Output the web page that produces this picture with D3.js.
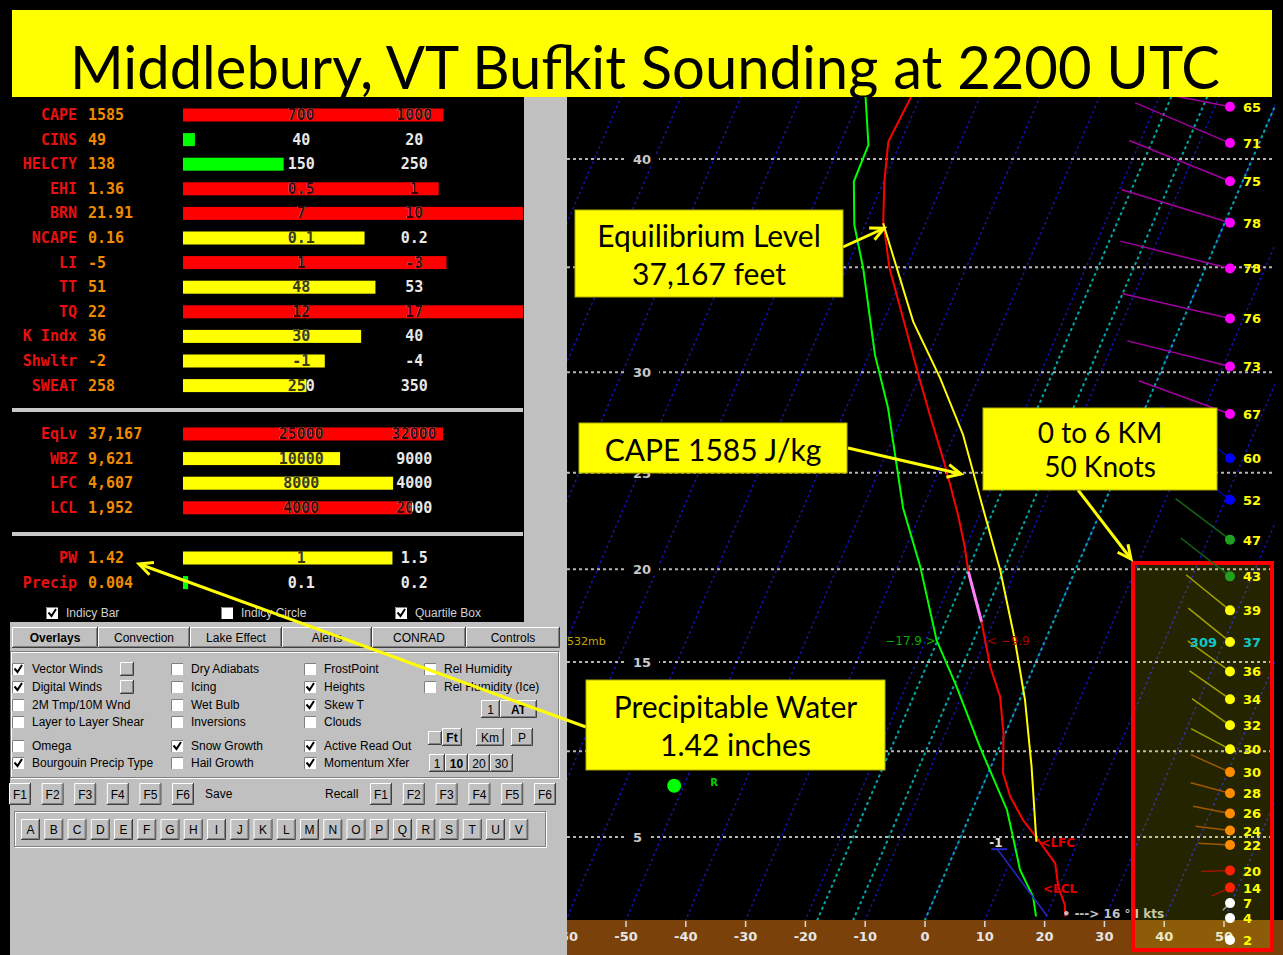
<!DOCTYPE html>
<html>
<head>
<meta charset="utf-8">
<title>Middlebury Bufkit sounding</title>
<script src="https://d3js.org/d3.v7.min.js"></script>
<style>
  body { margin: 0; background: #fff; overflow: hidden; }
  svg text { user-select: none; }
</style>
</head>
<body>
<script>
// ---------------- data ----------------
const titleText = "Middlebury, VT Bufkit Sounding at 2200 UTC";

// stability indices
const idxNames  = ["CAPE", "CINS", "HELCTY", "EHI", "BRN", "NCAPE", "LI", "TT", "TQ", "K Indx", "Shwltr", "SWEAT"];
const idxValues = ["1585", "49", "138", "1.36", "21.91", "0.16", "-5", "51", "22", "36", "-2", "258"];
const idxFill   = [0.766, 0.035, 0.296, 0.752, 1.0, 0.534, 0.775, 0.566, 1.0, 0.524, 0.417, 0.363];
const idxLow    = ["700", "40", "150", "0.5", "7", "0.1", "1", "48", "12", "30", "-1", "250"];
const idxHigh   = ["1000", "20", "250", "1", "10", "0.2", "-3", "53", "17", "40", "-4", "350"];
const idxLevel  = ["hi", "ok", "ok", "hi", "hi", "mod", "hi", "mod", "hi", "mod", "mod", "mod"];

// heights (feet)
const hgtNames  = ["EqLv", "WBZ", "LFC", "LCL"];
const hgtValues = ["37,167", "9,621", "4,607", "1,952"];
const hgtFill   = [0.765, 0.462, 0.618, 0.673];
const hgtLow    = ["25000", "10000", "8000", "4000"];
const hgtHigh   = ["32000", "9000", "4000", "2000"];
const hgtLevel  = ["hi", "mod", "mod", "hi"];

// moisture
const pwNames  = ["PW", "Precip"];
const pwValues = ["1.42", "0.004"];
const pwFill   = [0.616, 0.015];
const pwLow    = ["1", "0.1"];
const pwHigh   = ["1.5", "0.2"];
const pwLevel  = ["mod", "ok"];

// sounding (pressure mb, deg C)
const tempP = [160, 180.4, 197.1, 215.4, 238.9, 257.2, 302.6, 330.7, 369.4, 412.8, 442.9, 468.1, 523.0, 577.9, 617.6, 669.8, 731.9, 770.9, 811.8, 848.5, 893.6, 941.2, 980.1, 1005];
const tempC = [-61.4, -62.1, -59.9, -57.2, -52.8, -48.9, -40.3, -35.5, -29.4, -23.6, -20.2, -17.8, -12.0, -7.3, -3.5, -0.3, 2.5, 5.4, 9.2, 13.2, 17.7, 19.9, 22.3, 23.2];
const dewP  = [160, 181.7, 197.1, 217.0, 238.9, 289.5, 325.6, 406.4, 462.9, 544.7, 604.0, 690.0, 793.9, 861.3, 906.9, 962.2, 1005];
const dewC  = [-69.9, -65.2, -65.0, -61.8, -57.2, -49.0, -43.0, -33.3, -26.2, -18.2, -11.5, -3.3, 5.8, 9.8, 12.3, 16.4, 18.3];
const parcelP = [216.2, 268.9, 304.9, 345.7, 403.7, 466.3, 544.7, 622.1, 721.3, 851.8];
const parcelC = [-57.1, -45.0, -36.4, -28.5, -20.3, -12.6, -5.1, 0.9, 6.8, 13.0];
const momentP = [1005, 866];
const momentC = [20.2, 7.0];

// winds
const windP   = [167, 181, 197, 216, 239, 267, 297, 330, 364, 399, 436, 473, 510, 547, 584, 621, 658, 694, 730, 765, 800, 831, 858, 908, 943, 976, 1009, 1059];
const windSpd = [65, 71, 75, 78, 78, 76, 73, 67, 60, 52, 47, 43, 39, 37, 36, 34, 32, 30.4, 29.6, 28, 26, 24, 22, 20, 14, 7, 4, 2];
const windDir = [281, 293, 292, 287, 284, 283, 284, 290, 307, 307, 307, 308, 309, 309, 306, 305, 305, 298, 294, 285, 281, 277, 273, 268, 245, 225, 230, 230];

// axes
const heightTicks = [5, 10, 15, 20, 25, 30, 35, 40];   // thousands of feet
const heightLabels = [5, 15, 20, 25, 30, 40];          // the others sit under the callouts
const tempTicks = d3.range(-60, 51, 10);
const snowIsotherms = [-18, -12, 0];

// cursor read out
const readoutP = 546, readoutMb = "532mb", readoutDew = -17.9, readoutTemp = -9.9;

// ---------------- page ----------------
const W = 1283, H = 955;
const svg = d3.select("body").append("svg").attr("width", W).attr("height", H).style("display", "block");
const defs = svg.append("defs");
svg.append("rect").attr("width", W).attr("height", H).attr("fill", "#000");

// title band
svg.append("rect").attr("x", 12).attr("y", 10).attr("width", 1260).attr("height", 88).attr("fill", "#ffff00");
svg.append("text").attr("x", 645).attr("y", 89)
    .attr("text-anchor", "middle")
    .attr("font-family", "Lato, 'Open Sans', sans-serif")
    .attr("font-size", 60)
    .attr("textLength", 1150).attr("lengthAdjust", "spacingAndGlyphs")
    .attr("fill", "#000")
    .text(titleText);

// ---------------- index panel ----------------
const panel = svg.append("g");
panel.append("rect").attr("x", 10).attr("y", 97).attr("width", 514).attr("height", 525).attr("fill", "#000");
panel.append("rect").attr("x", 524).attr("y", 97).attr("width", 42).attr("height", 528).attr("fill", "#c0c0c0");
[410, 534].forEach(y => {
    panel.append("rect").attr("x", 12).attr("y", y - 2).attr("width", 511).attr("height", 4).attr("fill", "#c8c8c8");
});

const barX = d3.scaleLinear().domain([0, 1]).range([183, 523]);
const levelColor = d3.scaleOrdinal().domain(["hi", "mod", "ok"]).range(["#ff0000", "#ffff00", "#00ff00"]);
const monoFont = "'DejaVu Sans Mono', 'Liberation Mono', monospace";
let clipId = 0;

function drawRows(names, values, fill, low, high, level, y0) {
    names.forEach((name, i) => {
        const y = y0 + i * 24.6;
        const col = levelColor(level[i]);
        const g = panel.append("g").attr("font-family", monoFont).attr("font-weight", "bold").attr("font-size", 15);
        g.append("text").attr("x", 77).attr("y", y + 5).attr("text-anchor", "end").attr("fill", "#e81010").text(name);
        g.append("text").attr("x", 88).attr("y", y + 5).attr("fill", "#f08a00").text(values[i]);
        const bw = barX(fill[i]) - barX(0);
        g.append("rect").attr("x", barX(0)).attr("y", y - 6.5).attr("width", bw).attr("height", 13).attr("fill", col);
        const id = "barclip" + (clipId++);
        defs.append("clipPath").attr("id", id)
            .append("rect").attr("x", barX(0)).attr("y", y - 8).attr("width", bw).attr("height", 16);
        [[low[i], 0.348], [high[i], 0.68]].forEach(([t, f]) => {
            g.append("text").attr("x", barX(f)).attr("y", y + 5).attr("text-anchor", "middle").attr("fill", "#e8e8e8").text(t);
            g.append("text").attr("x", barX(f)).attr("y", y + 5).attr("text-anchor", "middle")
                .attr("clip-path", `url(#${id})`)
                .attr("fill", d3.color(col).darker(4)).text(t);
        });
    });
}
drawRows(idxNames, idxValues, idxFill, idxLow, idxHigh, idxLevel, 115);
drawRows(hgtNames, hgtValues, hgtFill, hgtLow, hgtHigh, hgtLevel, 434);
drawRows(pwNames, pwValues, pwFill, pwLow, pwHigh, pwLevel, 558);

function checkbox(g, x, y, on) {
    g.append("rect").attr("x", x).attr("y", y - 6).attr("width", 12).attr("height", 12).attr("fill", "#fff");
    g.append("path").attr("d", `M${x + 0.5},${y + 6}V${y - 5.5}H${x + 12}`).attr("stroke", "#808080").attr("fill", "none");
    if (on) g.append("path").attr("d", `M${x + 2.5},${y - 0.5}l3,3.5l4.5,-7`)
        .attr("stroke", "#000").attr("stroke-width", 2).attr("fill", "none");
}
const uiFont = "'Liberation Sans', Arial, sans-serif";
[["Indicy Bar", 46, 1], ["Indicy Circle", 221, 0], ["Quartile Box", 395, 1]].forEach(([t, x, on]) => {
    checkbox(panel, x, 613, on);
    panel.append("text").attr("x", x + 20).attr("y", 617).attr("font-family", uiFont).attr("font-size", 12)
        .attr("fill", "#d0d0d0").text(t);
});

// ---------------- control panel ----------------
const ctl = svg.append("g").attr("font-family", uiFont).attr("font-size", 12);
ctl.append("rect").attr("x", 10).attr("y", 622).attr("width", 556).attr("height", 333).attr("fill", "#c0c0c0");

function button(x, y, w, h, label, bold) {
    ctl.append("rect").attr("x", x).attr("y", y).attr("width", w).attr("height", h).attr("fill", "#c0c0c0");
    ctl.append("path").attr("d", `M${x + 0.5},${y + h}V${y + 0.5}H${x + w}`).attr("stroke", "#fff").attr("fill", "none");
    ctl.append("path").attr("d", `M${x + w - 0.5},${y}V${y + h - 0.5}H${x}`).attr("stroke", "#404040").attr("fill", "none");
    ctl.append("path").attr("d", `M${x + w - 1.5},${y + 1}V${y + h - 1.5}H${x + 1}`).attr("stroke", "#808080").attr("fill", "none");
    if (label) ctl.append("text").attr("x", x + w / 2).attr("y", y + h / 2 + 4.5).attr("text-anchor", "middle")
        .attr("font-weight", bold ? "bold" : "normal").attr("fill", "#000").text(label);
}

const tabNames = ["Overlays", "Convection", "Lake Effect", "Alerts", "CONRAD", "Controls"];
const tabEdges = [12, 98, 190, 282, 372, 466, 560];
tabNames.forEach((t, i) => button(tabEdges[i], 627, tabEdges[i + 1] - tabEdges[i], 21, t, i === 0));

// etched frame for overlay options
function etched(x, y, w, h) {
    ctl.append("rect").attr("x", x + 1.5).attr("y", y + 1.5).attr("width", w).attr("height", h).attr("fill", "none").attr("stroke", "#fff");
    ctl.append("rect").attr("x", x + 0.5).attr("y", y + 0.5).attr("width", w).attr("height", h).attr("fill", "none").attr("stroke", "#808080");
}
etched(10, 651, 548, 126);
etched(14, 811, 531, 35);

const ovRows = [669, 687, 705, 722, 746, 763];
const ovColX = [12, 171, 304, 424];
const ovLabels = [
    ["Vector Winds", "Digital Winds", "2M Tmp/10M Wnd", "Layer to Layer Shear", "Omega", "Bourgouin Precip Type"],
    ["Dry Adiabats", "Icing", "Wet Bulb", "Inversions", "Snow Growth", "Hail Growth"],
    ["FrostPoint", "Heights", "Skew T", "Clouds", "Active Read Out", "Momentum Xfer"],
    ["Rel Humidity", "Rel Humidity (Ice)"]
];
const ovChecked = [[1, 1, 0, 0, 0, 1], [0, 0, 0, 0, 1, 0], [0, 1, 1, 0, 1, 1], [0, 0]];
ovLabels.forEach((col, c) => col.forEach((t, r) => {
    checkbox(ctl, ovColX[c], ovRows[r], ovChecked[c][r]);
    ctl.append("text").attr("x", ovColX[c] + 20).attr("y", ovRows[r] + 4).attr("fill", "#000").text(t);
}));
button(120, 662, 14, 14, "");
button(120, 680, 14, 14, "");
button(481, 700, 19, 18, "1");
button(500, 700, 37, 18, "AT", true);
button(428, 731, 14, 14, "");
button(442, 728, 20, 18, "Ft", true);
button(476, 728, 28, 18, "Km");
button(511, 728, 22, 18, "P");
button(429, 754, 16, 18, "1");
button(445, 754, 23, 18, "10", true);
button(468, 754, 22, 18, "20");
button(490, 754, 23, 18, "30");

["F1", "F2", "F3", "F4", "F5", "F6"].forEach((t, i) => {
    button(9 + i * 32.6, 783, 22, 22, t);
    button(370 + i * 32.8, 783, 22, 22, t);
});
ctl.append("text").attr("x", 205).attr("y", 798).attr("fill", "#000").text("Save");
ctl.append("text").attr("x", 325).attr("y", 798).attr("fill", "#000").text("Recall");
"ABCDEFGHIJKLMNOPQRSTUV".split("").forEach((t, i) => button(21 + i * 23.25, 819, 19, 21, t));

// ---------------- skew-T ----------------
const yP = d3.scaleLog().domain([1013.25, 187.5]).range([920, 159]);
const xT = d3.scaleLinear().domain([-60, 50]).range([566.2, 1224]);
const skew = 0.43;
const sx = (t, p) => xT(t) + skew * (yP(1013.25) - yP(p));

function stdPressure(kft) {
    const z = kft * 1000 / 3.28084;
    if (z <= 11000) return 1013.25 * Math.pow(1 - 2.25577e-5 * z, 5.25588);
    return 226.32 * Math.exp(-(z - 11000) / 6341.6);
}

svg.append("rect").attr("x", 566).attr("y", 97).attr("width", 717).attr("height", 858).attr("fill", "#000");
defs.append("clipPath").attr("id", "plotClip")
    .append("rect").attr("x", 567).attr("y", 97).attr("width", 708).attr("height", 823);
const plot = svg.append("g").attr("clip-path", "url(#plotClip)");

// isotherms
d3.range(-110, 51, 10).forEach(t => {
    plot.append("line")
        .attr("x1", sx(t, 1040)).attr("y1", yP(1040)).attr("x2", sx(t, 150)).attr("y2", yP(150))
        .attr("stroke", "#1414b4").attr("stroke-width", 1.5).attr("stroke-dasharray", "2.5,3");
});
snowIsotherms.forEach(t => {
    plot.append("line")
        .attr("x1", sx(t, 1040)).attr("y1", yP(1040)).attr("x2", sx(t, 150)).attr("y2", yP(150))
        .attr("stroke", "#00a8a8").attr("stroke-width", 2).attr("stroke-dasharray", "3,3");
});

// height lines
heightTicks.forEach(h => {
    const y = yP(stdPressure(h));
    plot.append("line").attr("x1", 567).attr("x2", 1275).attr("y1", y).attr("y2", y)
        .attr("stroke", "#b4b4b4").attr("stroke-width", 2).attr("stroke-dasharray", "3,3");
    if (!heightLabels.includes(h)) return;
    const t = plot.append("text").attr("x", 633).attr("y", y + 5)
        .attr("font-family", "'DejaVu Sans', sans-serif").attr("font-weight", "bold").attr("font-size", 13)
        .attr("fill", "#c8c8c8").text(h);
    const bb = t.node().getBBox();
    plot.insert("rect", () => t.node()).attr("x", 627).attr("y", y - 4).attr("width", bb.width + 14).attr("height", 8).attr("fill", "#000");
});

// profiles
const line = d3.line().x(d => sx(d.t, d.p)).y(d => yP(d.p));
const temp = tempP.map((p, i) => ({ p, t: tempC[i] }));
const dew = dewP.map((p, i) => ({ p, t: dewC[i] }));
const parcel = parcelP.map((p, i) => ({ p, t: parcelC[i] }));
const moment = momentP.map((p, i) => ({ p, t: momentC[i] }));

plot.append("path").datum(dew).attr("d", line).attr("fill", "none").attr("stroke", "#00ff00").attr("stroke-width", 2);
plot.append("path").datum(temp).attr("d", line).attr("fill", "none").attr("stroke", "#ff0000").attr("stroke-width", 2);
plot.append("path").datum(temp)
    .attr("d", line.defined(d => d.t >= -18.1 && d.t <= -11.9))
    .attr("fill", "none").attr("stroke", "#ff80ff").attr("stroke-width", 3);
line.defined(() => true);
plot.append("path").datum(parcel).attr("d", line).attr("fill", "none").attr("stroke", "#ffff00").attr("stroke-width", 2);
plot.append("path").datum(moment).attr("d", line).attr("fill", "none").attr("stroke", "#2828c8").attr("stroke-width", 1.5);
const mTop = moment[1];
plot.append("line").attr("x1", sx(mTop.t, mTop.p) - 6).attr("x2", sx(mTop.t, mTop.p) + 10)
    .attr("y1", yP(mTop.p)).attr("y2", yP(mTop.p)).attr("stroke", "#2828c8").attr("stroke-width", 2);

// annotations on the sounding
const ann = plot.append("g").attr("font-family", "'DejaVu Sans', sans-serif").attr("font-weight", "bold").attr("font-size", 12);
const lfc = parcel[parcel.length - 1];
ann.append("text").attr("x", sx(lfc.t, lfc.p) + 4).attr("y", yP(lfc.p) + 5).attr("fill", "#e00000").text("<LFC");
ann.append("text").attr("x", sx(17.4, 943)).attr("y", yP(943) + 5).attr("fill", "#e00000").text("<LCL");
ann.append("text").attr("x", sx(6.3, 854)).attr("y", yP(854) + 4).attr("text-anchor", "middle").attr("fill", "#e0e0e0").text("-1");
ann.append("text").attr("x", sx(22.8, 1007)).attr("y", yP(1007) + 1).attr("font-size", 12).attr("fill", "#c0c0c0")
    .text("\u2022 ---> 16 \u00b0  I kts");
const ry = yP(readoutP);
ann.append("text").attr("x", 567).attr("y", ry + 4).attr("font-weight", "normal").attr("font-size", 11)
    .attr("fill", "#c8a800").text(readoutMb);
ann.append("text").attr("x", sx(readoutDew, readoutP) - 2).attr("y", ry + 4).attr("text-anchor", "end")
    .attr("font-weight", "normal").attr("font-size", 12).attr("fill", "#00b000").text(d3.format(".1f")(readoutDew) + " >");
ann.append("text").attr("x", sx(readoutTemp, readoutP) + 1).attr("y", ry + 4)
    .attr("font-weight", "normal").attr("font-size", 12).attr("fill", "#b00000").text("< " + d3.format(".1f")(readoutTemp));
ann.append("circle").attr("cx", sx(-51.6, 752.4)).attr("cy", yP(752.4)).attr("r", 7).attr("fill", "#00ff00");
ann.append("text").attr("x", sx(-51.6, 752.4) + 36).attr("y", yP(752.4)).attr("font-size", 10).attr("fill", "#00d000").text("R");

// temperature axis band
svg.append("rect").attr("x", 566).attr("y", 920).attr("width", 717).attr("height", 35).attr("fill", "#7a420a");
defs.append("clipPath").attr("id", "axisClip")
    .append("rect").attr("x", 567).attr("y", 918).attr("width", 708).attr("height", 37);
const axisG = svg.append("g").attr("clip-path", "url(#axisClip)")
    .attr("font-family", "'DejaVu Sans', sans-serif").attr("font-weight", "bold").attr("font-size", 13);
tempTicks.forEach(t => {
    axisG.append("line").attr("x1", xT(t)).attr("x2", xT(t)).attr("y1", 921).attr("y2", 927).attr("stroke", "#d8d8d8").attr("stroke-width", 1.5);
    axisG.append("text").attr("x", xT(t)).attr("y", 941).attr("text-anchor", "middle").attr("fill", "#e6e6e6").text(t);
});
svg.append("rect").attr("x", 565).attr("y", 97).attr("width", 2).attr("height", 858).attr("fill", "#c0c0c0");

// 0-6 km wind box
svg.append("rect").attr("x", 1133).attr("y", 563).attr("width", 139).attr("height", 387)
    .attr("fill", "#ffff00").attr("fill-opacity", 0.14).attr("stroke", "#ff0000").attr("stroke-width", 4);

// winds
const windColor = d3.scaleThreshold().domain([10, 21, 30, 40, 50, 65])
    .range(["#ffffff", "#ff2000", "#ff8c00", "#ffff00", "#20a020", "#0000ff", "#ff00ff"]);
const windX = 1230;
const readIdx = d3.minIndex(windP, p => Math.abs(p - readoutP));
const barbG = svg.append("g").attr("clip-path", "url(#plotClip)");
const windG = svg.append("g").attr("font-family", "'DejaVu Sans', sans-serif").attr("font-weight", "bold").attr("font-size", 13);
windP.forEach((p, i) => {
    const y = yP(p);
    const c = windColor(windSpd[i]);
    const len = windSpd[i] * 1.45;
    const a = windDir[i] * Math.PI / 180;
    barbG.append("line").attr("x1", windX).attr("y1", y)
        .attr("x2", windX + len * Math.sin(a)).attr("y2", y - len * Math.cos(a))
        .attr("stroke", d3.color(c).darker(1.3)).attr("stroke-width", 1.5);
    windG.append("circle").attr("cx", windX).attr("cy", y).attr("r", 5).attr("fill", c);
    windG.append("text").attr("x", windX + 13).attr("y", y + 5)
        .attr("fill", i === readIdx ? "#10c8c8" : "#ffff00").text(d3.format(".0f")(windSpd[i]));
});
windG.append("text").attr("x", windX - 13).attr("y", yP(windP[readIdx]) + 5).attr("text-anchor", "end")
    .attr("fill", "#10c8c8").text(windDir[readIdx]);

// ---------------- callouts ----------------
const call = svg.append("g").attr("font-family", "Lato, 'Open Sans', sans-serif").attr("fill", "#000");
function callout(x, y, w, h, lines, baselines, size) {
    call.append("rect").attr("x", x).attr("y", y).attr("width", w).attr("height", h)
        .attr("fill", "#ffff00").attr("stroke", "#b0b000").attr("stroke-width", 1);
    lines.forEach((t, i) => call.append("text").attr("x", x + w / 2).attr("y", baselines[i])
        .attr("text-anchor", "middle").attr("font-size", size).text(t));
}
function arrow(x1, y1, x2, y2) {
    const a = Math.atan2(y2 - y1, x2 - x1), L = 15, s = 0.45;
    call.append("line").attr("x1", x1).attr("y1", y1).attr("x2", x2).attr("y2", y2)
        .attr("stroke", "#ffff00").attr("stroke-width", 3);
    call.append("path")
        .attr("d", `M${x2 - L * Math.cos(a - s)},${y2 - L * Math.sin(a - s)}L${x2},${y2}L${x2 - L * Math.cos(a + s)},${y2 - L * Math.sin(a + s)}`)
        .attr("fill", "none").attr("stroke", "#ffff00").attr("stroke-width", 3).attr("stroke-linejoin", "miter");
}
const el = parcel[0];
arrow(843, 247, sx(el.t, el.p) + 1, yP(el.p) + 5);
arrow(848, 448, 961, 474);
arrow(1078, 490, 1131, 559);
arrow(586, 727, 139, 564);
callout(575, 210, 268, 87, ["Equilibrium Level", "37,167 feet"], [247, 285], 30);
callout(579, 423, 268, 50, ["CAPE 1585 J/kg"], [461], 30);
callout(983, 408, 234, 82, ["0 to 6 KM", "50 Knots"], [443, 477], 28);
callout(586, 680, 299, 90, ["Precipitable Water", "1.42 inches"], [718, 756], 30);
</script>
</body>
</html>
